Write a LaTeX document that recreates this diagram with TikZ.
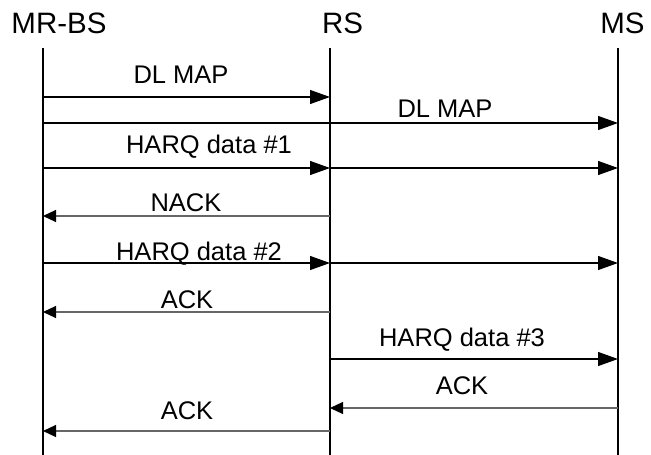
\documentclass[tikz,border=0pt]{standalone}
\usepackage{fontspec}
\setmainfont{Liberation Sans}
\usetikzlibrary{arrows.meta}
\tikzset{
  lifeline/.style={line width=1.5pt, black},
  head/.style={anchor=base, inner sep=0pt, font=\fontsize{29.5}{30}\selectfont},
  lbl/.style={anchor=base, inner sep=0pt, font=\fontsize{25.5}{26}\selectfont},
  fwd/.style={line width=1.2pt, black, -{Triangle[length=20pt,width=14pt]}},
  bwd/.style={line width=1.2pt, black!60, -{Triangle[length=13pt,width=12pt,color=black]}},
}
\begin{document}
\begin{tikzpicture}[x=1pt,y=-1pt]
\useasboundingbox (0,0) rectangle (651,455);
% headers
\node[head] (hbs) at (59,34) {MR-BS};
\node[head] (hrs) at (342.5,34) {RS};
\node[head] (hms) at (622.5,34) {MS};
% lifelines
\coordinate (bsT) at (43,48); \coordinate (bsB) at (43,455);
\coordinate (rsT) at (330,48); \coordinate (rsB) at (330,455);
\coordinate (msT) at (618,48); \coordinate (msB) at (618,455);
\draw[lifeline] (bsT) -- (bsB);
\draw[lifeline] (rsT) -- (rsB);
\draw[lifeline] (msT) -- (msB);
% message rows: coordinates on lifelines
\foreach \n/\y in {1/97,2/123,3/168,4/216,5/263,6/312,7/359,8/408,9/431}{
  \coordinate (b\n) at (43,\y);
  \coordinate (r\n) at (330,\y);
  \coordinate (m\n) at (618,\y);
}
% DL MAP to RS
\draw[fwd] (b1) -- (r1);
\node[lbl] (l1) at (181,83.5) {DL MAP};
% DL MAP to MS
\draw[line width=1.2pt] (b2) -- (r2);
\draw[fwd] (r2) -- (m2);
\node[lbl] (l2) at (445,117) {DL MAP};
% HARQ data #1
\draw[fwd] (b3) -- (r3);
\draw[fwd] (r3) -- (m3);
\node[lbl] (l3) at (209,153) {HARQ data \#1};
% NACK
\draw[bwd] (r4) -- (b4);
\node[lbl] (l4) at (186,211.5) {NACK};
% HARQ data #2
\draw[fwd] (b5) -- (r5);
\draw[fwd] (r5) -- (m5);
\node[lbl] (l5) at (199,260) {HARQ data \#2};
% ACK
\draw[bwd] (r6) -- (b6);
\node[lbl] (l6) at (187,308) {ACK};
% HARQ data #3
\draw[fwd] (r7) -- (m7);
\node[lbl] (l7) at (462,346.5) {HARQ data \#3};
% ACK MS->RS
\draw[bwd] (m8) -- (r8);
\node[lbl] (l8) at (462,394) {ACK};
% ACK RS->MR-BS
\draw[bwd] (r9) -- (b9);
\node[lbl] (l9) at (187,419) {ACK};
\end{tikzpicture}
\end{document}
